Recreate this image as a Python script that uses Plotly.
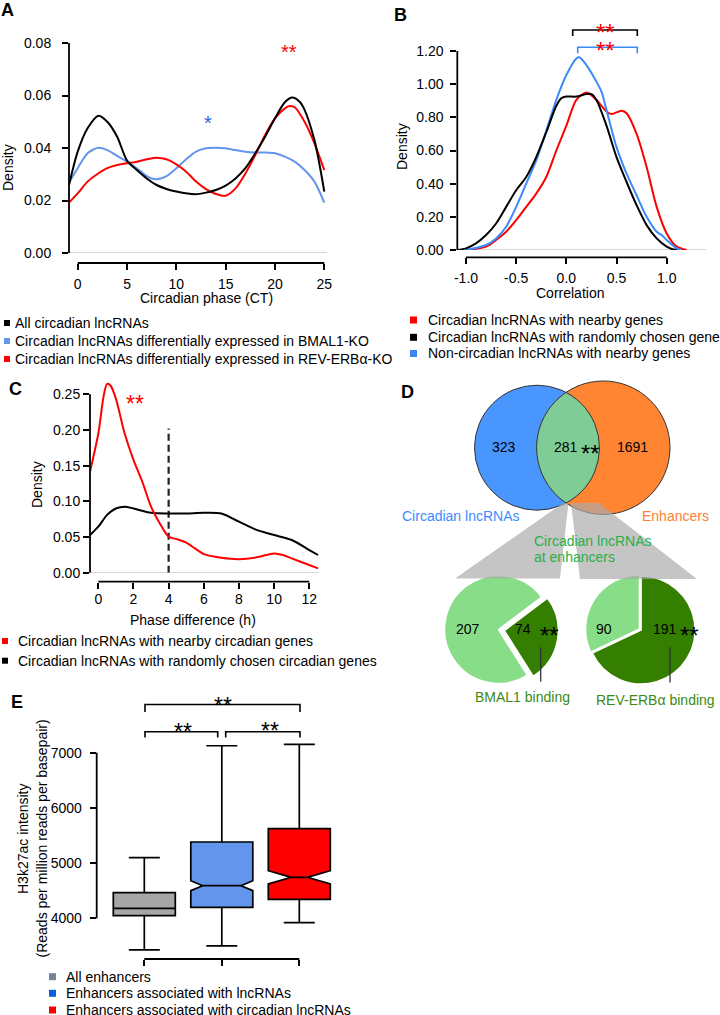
import plotly.graph_objects as go
import numpy as np

W, H = 720, 1015
FONT = "Arial, 'Liberation Sans', sans-serif"
FS = 14

# ---------------- DATA ----------------
# Panel A : density of circadian phase (CT)
a_all_x = [-0.88, 0, 1, 2.1, 3, 4, 5, 6, 7, 8, 9, 10, 11.9, 13, 14, 15, 16, 17, 18, 19, 20, 21, 21.75, 22.5, 23, 24, 24.5, 25]
a_all_y = [0.0259, 0.0386, 0.0475, 0.0523, 0.0500, 0.0443, 0.0352, 0.0316, 0.0284, 0.0259, 0.0244, 0.0234, 0.0224,
           0.0230, 0.0240, 0.0257, 0.0284, 0.0323, 0.0380, 0.0443, 0.0513, 0.0574, 0.0592, 0.0576, 0.0545, 0.0430,
           0.0340, 0.0234]
a_bmal_x = [-0.88, 0, 1, 2.1, 3, 4, 5, 6, 7, 7.9, 9, 10, 11, 12, 13, 14, 15, 16, 17, 18, 19, 20, 21, 22, 23, 24, 25]
a_bmal_y = [0.0268, 0.0323, 0.0380, 0.0401, 0.0392, 0.0370, 0.0348, 0.0323, 0.0293, 0.0281, 0.0293, 0.0323, 0.0357,
            0.0386, 0.0399, 0.0401, 0.0399, 0.0392, 0.0386, 0.0383, 0.0383, 0.0380, 0.0367, 0.0348, 0.0316, 0.0272,
            0.0192]
a_rev_x = [-0.88, 0, 1, 2, 3, 4, 5, 6, 7, 8, 9, 10, 11, 12, 13, 14, 15, 16, 17, 18, 19, 20, 21, 21.5, 22, 23, 24, 25]
a_rev_y = [0.0192, 0.0227, 0.0272, 0.0301, 0.0323, 0.0335, 0.0342, 0.0348, 0.0357, 0.0363, 0.0357, 0.0338, 0.0310,
           0.0272, 0.0243, 0.0225, 0.0218, 0.0246, 0.0303, 0.0373, 0.0450, 0.0513, 0.0551, 0.0560, 0.0555, 0.0500,
           0.0418, 0.0316]
a_xticks = [0, 5, 10, 15, 20, 25]
a_yticks = [0.00, 0.02, 0.04, 0.06, 0.08]
a_legend = ["All circadian lncRNAs",
            "Circadian lncRNAs differentially expressed in BMAL1-KO",
            "Circadian lncRNAs differentially expressed in REV-ERBα-KO"]

# Panel B : density of correlation
b_near_x = [-1.0, -0.8, -0.7, -0.6, -0.5, -0.4, -0.3, -0.2, -0.1, 0, 0.1, 0.2, 0.3, 0.4, 0.45, 0.55, 0.6, 0.7, 0.8,
            0.9, 1.0, 1.1, 1.2]
b_near_y = [0, 0.02, 0.06, 0.11, 0.18, 0.26, 0.34, 0.44, 0.60, 0.75, 0.905, 0.95, 0.905, 0.835, 0.82, 0.84, 0.825,
            0.70, 0.50, 0.26, 0.10, 0.02, 0]
b_rand_x = [-1.087, -1.0, -0.9, -0.8, -0.7, -0.6, -0.5, -0.4, -0.3, -0.2, -0.1, -0.05, 0, 0.1, 0.2, 0.25, 0.3, 0.4,
            0.5, 0.6, 0.7, 0.8, 0.9, 1.0, 1.05, 1.1]
b_rand_y = [0, 0.01, 0.04, 0.09, 0.16, 0.26, 0.36, 0.44, 0.56, 0.71, 0.87, 0.915, 0.925, 0.925, 0.94, 0.94, 0.905,
            0.75, 0.56, 0.41, 0.27, 0.15, 0.07, 0.02, 0.006, 0]
b_non_x = [-1.0, -0.8, -0.7, -0.6, -0.5, -0.4, -0.3, -0.2, -0.1, 0, 0.1, 0.13, 0.2, 0.3, 0.35, 0.4, 0.5, 0.6, 0.7,
           0.8, 0.9, 0.95, 1.0, 1.1, 1.15]
b_non_y = [0, 0.03, 0.07, 0.14, 0.26, 0.40, 0.54, 0.72, 0.905, 1.055, 1.155, 1.162, 1.115, 1.015, 0.955, 0.845, 0.62,
           0.46, 0.33, 0.20, 0.11, 0.09, 0.06, 0.01, 0]
b_xticks = [-1.0, -0.5, 0.0, 0.5, 1.0]
b_yticks = [0.0, 0.2, 0.4, 0.6, 0.8, 1.0, 1.2]
b_legend = ["Circadian lncRNAs with nearby genes",
            "Circadian lncRNAs with randomly chosen genes",
            "Non-circadian lncRNAs with nearby genes"]

# Panel C : density of phase difference (h)
c_near_x = [-0.47, 0, 0.3, 0.5, 0.7, 1, 1.5, 2, 2.5, 3, 3.5, 4, 4.5, 5, 5.5, 6, 7, 8, 9, 10, 10.5, 11, 12, 12.5]
c_near_y = [0.1416, 0.195, 0.247, 0.2645, 0.262, 0.244, 0.195, 0.158, 0.1276, 0.0925, 0.069, 0.0505, 0.0467, 0.042,
            0.034, 0.026, 0.021, 0.019, 0.0215, 0.027, 0.0248, 0.020, 0.0107, 0.006]
c_rand_x = [-0.47, 0, 0.5, 1, 1.5, 2, 3, 4, 5, 6, 7, 8, 9, 10, 11, 12, 12.5]
c_rand_y = [0.0528, 0.0645, 0.081, 0.090, 0.0925, 0.090, 0.084, 0.083, 0.083, 0.084, 0.083, 0.0715, 0.060, 0.0528,
            0.0458, 0.0318, 0.0248]
c_cutoff = 4
c_cutoff_top = 0.202
c_xticks = [0, 2, 4, 6, 8, 10, 12]
c_yticks = [0.00, 0.05, 0.10, 0.15, 0.20, 0.25]
c_legend = ["Circadian lncRNAs with nearby circadian genes",
            "Circadian lncRNAs with randomly chosen circadian genes"]

# Panel D : Venn and pies
d_venn = {"lnc_only": 323, "both": 281, "enh_only": 1691}
d_bmal = [74, 207]      # bound, not bound
d_rev = [191, 90]

# Panel E : H3K27ac boxplots
e_groups = ["All enhancers", "Enhancers associated with lncRNAs", "Enhancers associated with circadian lncRNAs"]
e_lower = [3427, 3499, 3922]
e_q1 = [4048, 4199, 4344]
e_median = [4181, 4591, 4742]
e_q3 = [4465, 5382, 5623]
e_upper = [5098, 7126, 7150]
e_notch = [0, 90, 120]
e_yticks = [4000, 5000, 6000, 7000]

# ---------------- helpers ----------------
layout = dict(width=W, height=H, margin=dict(l=0, r=0, t=0, b=0, pad=0), paper_bgcolor="white",
              plot_bgcolor="rgba(0,0,0,0)", showlegend=False,
              font=dict(family=FONT, size=FS, color="black"))
shapes, annotations, traces = [], [], []


def px(x):
    return x / W


def py(y):
    return 1 - y / H


def text(x, y, s, size=FS, color="black", xa="center", ya="middle", angle=0, bold=False, yshift=0):
    if bold:
        s = "<b>" + s + "</b>"
    annotations.append(dict(x=px(x), y=py(y), xref="paper", yref="paper", text=s, showarrow=False,
                            xanchor=xa, yanchor=ya, textangle=angle, yshift=yshift,
                            font=dict(size=size, color=color, family=FONT)))


def stars(x, y, s="**", color="black", size=20):
    text(x, y, s, size=size, color=color, yshift=-0.28 * size)


def line(x0, y0, x1, y1, color="black", width=1.6, dash="solid"):
    shapes.append(dict(type="line", xref="paper", yref="paper", x0=px(x0), y0=py(y0), x1=px(x1), y1=py(y1),
                       line=dict(color=color, width=width, dash=dash)))


def bracket(x0, x1, ytop, ybot, color="black", width=1.6):
    path = f"M{px(x0)},{py(ybot)} L{px(x0)},{py(ytop)} L{px(x1)},{py(ytop)} L{px(x1)},{py(ybot)}"
    shapes.append(dict(type="path", xref="paper", yref="paper", path=path, line=dict(color=color, width=width)))


def square(x, y, size, color):
    shapes.append(dict(type="rect", xref="paper", yref="paper", x0=px(x), x1=px(x + size),
                       y0=py(y + size / 2), y1=py(y - size / 2), fillcolor=color, line=dict(width=0)))


def panel(idx, xcal, ycal, xdom, ydom, xline_py, xt, xtl, yt, ytl, xstand=2, ystand=4):
    s = "" if idx == 1 else str(idx)
    xv0, xp0, xv1, xp1 = xcal
    kx = (xp1 - xp0) / (xv1 - xv0)
    xr = [xv0 + (xdom[0] - xp0) / kx, xv0 + (xdom[1] - xp0) / kx]
    yv0, yp0, yv1, yp1 = ycal
    ky = (yp1 - yp0) / (yv1 - yv0)
    yr = [yv0 + (ydom[1] - yp0) / ky, yv0 + (ydom[0] - yp0) / ky]
    common = dict(tickmode="array", ticks="outside", ticklen=6, tickwidth=1.6, tickcolor="black",
                  showline=False, showgrid=False, zeroline=False, fixedrange=True, automargin=False,
                  tickfont=dict(size=FS, family=FONT, color="black"))
    layout["xaxis" + s] = dict(domain=[px(xdom[0]), px(xdom[1])], range=xr, anchor="free",
                               position=py(xline_py), tickvals=xt, ticktext=xtl,
                               ticklabelstandoff=xstand, **common)
    layout["yaxis" + s] = dict(domain=[py(ydom[1]), py(ydom[0])], range=yr, anchor="x" + s,
                               tickvals=yt, ticktext=ytl, ticklabelstandoff=ystand, **common)
    shapes.append(dict(type="line", xref="x" + s, yref="paper", x0=xt[0], x1=xt[-1], y0=py(xline_py),
                       y1=py(xline_py), line=dict(color="black", width=1.8)))
    shapes.append(dict(type="line", xref="paper", yref="y" + s, x0=px(xdom[0]), x1=px(xdom[0]), y0=yt[0],
                       y1=yt[-1], line=dict(color="black", width=1.8)))
    return "x" + s, "y" + s


def curve(xa, ya, x, y, color, width=2):
    traces.append(go.Scatter(x=x, y=y, xaxis=xa, yaxis=ya, mode="lines", hoverinfo="skip",
                             line=dict(color=color, width=width, shape="spline", smoothing=0.8)))


def zero_line(xa, ya):
    shapes.append(dict(type="line", xref=xa + " domain", yref=ya, x0=0, x1=1, y0=0, y1=0, layer="below",
                       line=dict(color="#c8c8c8", width=1.6)))


RED = "#ff0000"
CORN = "#6495ed"
BBLUE = "#3a8bfa"
LAB = 18

# ---------------- Panel A ----------------
xa, ya = panel(1, (0, 77.7, 25, 324.3), (0, 253, 0.08, 43), (69, 327), (43, 253), 263,
               a_xticks, [str(v) for v in a_xticks], a_yticks, [f"{v:.2f}" for v in a_yticks], ystand=8)
zero_line(xa, ya)
curve(xa, ya, a_bmal_x, a_bmal_y, CORN)
curve(xa, ya, a_rev_x, a_rev_y, RED)
curve(xa, ya, a_all_x, a_all_y, "black")
text(7, 10, "A", size=LAB, bold=True)
text(8, 168, "Density", angle=-90)
text(207, 298, "Circadian phase (CT)")
stars(289, 46, "**", RED, 20)
stars(208, 117, "*", "#2a66d8", 20)
for i, (lab, col) in enumerate(zip(a_legend, ["black", CORN, RED])):
    yy = 323 + 18 * i
    square(4, yy, 6, col)
    text(12.5, yy, lab, xa="left")

# ---------------- Panel B ----------------
xb, yb = panel(2, (-1, 466, 1, 666.7), (0, 250, 1.2, 51), (457.3, 706), (51, 250), 257.3,
               b_xticks, [f"{v:.1f}" for v in b_xticks], b_yticks, [f"{v:.2f}" for v in b_yticks], ystand=4)
zero_line(xb, yb)
curve(xb, yb, b_near_x, b_near_y, RED)
curve(xb, yb, b_non_x, b_non_y, BBLUE)
curve(xb, yb, b_rand_x, b_rand_y, "black")
text(400, 15, "B", size=LAB, bold=True)
text(402, 147, "Density", angle=-90)
text(570, 293, "Correlation")
bracket(572.7, 637.3, 30, 36, "black")
bracket(577.7, 637.3, 47.3, 53.3, BBLUE)
stars(605, 26, "**", RED, 24)
stars(605, 43.5, "**", RED, 24)
for i, (lab, col) in enumerate(zip(b_legend, [RED, "black", "#3d85f5"])):
    yy = [320, 337.3, 353.5][i]
    square(410, yy, 7, col)
    text(426, yy, lab, xa="left")

# ---------------- Panel C ----------------
xc, yc = panel(3, (0, 98.3, 12, 309.3), (0, 572.7, 0.25, 394.3), (90, 319), (380, 572.7), 581.7,
               c_xticks, [str(v) for v in c_xticks], c_yticks, [f"{v:.2f}" for v in c_yticks],
               xstand=-2, ystand=0)
zero_line(xc, yc)
traces.append(go.Scatter(x=[c_cutoff, c_cutoff], y=[0, c_cutoff_top], xaxis=xc, yaxis=yc, mode="lines",
                         hoverinfo="skip", line=dict(color="#222222", width=2.2, dash="7px,4px")))
curve(xc, yc, c_rand_x, c_rand_y, "black")
curve(xc, yc, c_near_x, c_near_y, RED)
text(15, 389, "C", size=LAB, bold=True)
text(37, 485, "Density", angle=-90)
text(193, 620, "Phase difference (h)")
stars(135, 398, "**", RED, 23)
for i, (lab, col) in enumerate(zip(c_legend, [RED, "black"])):
    yy = [641, 660.7][i]
    square(2, yy, 6, col)
    text(16, yy, lab, xa="left")

# ---------------- Panel D ----------------
text(407, 392, "D", size=LAB, bold=True)
c1 = (537.0, 447.7, 62.5)
c2 = (603.3, 447.7, 66.7)
BLUE_V, ORANGE_V, GREEN_V = "#4a96ff", "#ff8533", "#7fcc96"
for (cx, cy, r), col in ((c1, BLUE_V), (c2, ORANGE_V)):
    shapes.append(dict(type="circle", xref="paper", yref="paper", x0=px(cx - r), x1=px(cx + r),
                       y0=py(cy + r), y1=py(cy - r), fillcolor=col, line=dict(width=0)))
d = c2[0] - c1[0]
aa = (d ** 2 + c1[2] ** 2 - c2[2] ** 2) / (2 * d)
hh = np.sqrt(c1[2] ** 2 - aa ** 2)
t1 = np.arctan2(hh, aa)
t2 = np.arctan2(hh, d - aa)
pts = []
for t in np.linspace(-t1, t1, 60):
    pts.append((c1[0] + c1[2] * np.cos(t), c1[1] + c1[2] * np.sin(t)))
for t in np.linspace(np.pi - t2, np.pi + t2, 60)[::-1]:
    pts.append((c2[0] + c2[2] * np.cos(t), c2[1] + c2[2] * np.sin(t)))
path = "M" + " L".join(f"{px(a):.5f},{py(b):.5f}" for a, b in pts) + " Z"
shapes.append(dict(type="path", xref="paper", yref="paper", path=path, fillcolor=GREEN_V, line=dict(width=0)))
for (cx, cy, r) in (c1, c2):
    shapes.append(dict(type="circle", xref="paper", yref="paper", x0=px(cx - r), x1=px(cx + r),
                       y0=py(cy + r), y1=py(cy - r), line=dict(color="#333333", width=1)))
# gray projection wedges (semi-transparent, drawn over the Venn)
for poly in ([(455, 578.5), (560, 578.5), (568.5, 503), (563, 503)],
             [(580, 579), (697, 579), (599, 503), (571, 503)]):
    path = "M" + " L".join(f"{px(a)},{py(b)}" for a, b in poly) + " Z"
    shapes.append(dict(type="path", xref="paper", yref="paper", path=path,
                       fillcolor="rgba(170,170,170,0.68)", line=dict(width=0)))
text(504, 447, str(d_venn["lnc_only"]))
text(566, 447, str(d_venn["both"]))
stars(590.5, 447, "**", "black", 24)
text(632.5, 447, str(d_venn["enh_only"]))
text(460.5, 516, "Circadian lncRNAs", color="#3d8bff")
text(675, 516, "Enhancers", color="#ff8033")
text(532, 540.7, "Circadian lncRNAs", color="#25b04c", xa="left")
text(532, 557.3, "at enhancers", color="#25b04c", xa="left")

DARK_G, LIGHT_G = "#347f00", "#88dd88"
for vals, (cx, cy), rot, pull in ((d_bmal, (498.5, 629.5), 53, 0.11), (d_rev, (639.5, 629.0), 0, 0.035)):
    r = 54
    half = r * (1 + pull)
    traces.append(go.Pie(values=vals, labels=["bound", "unbound"], sort=False, direction="clockwise",
                         rotation=rot, pull=[pull, 0], textinfo="none", hoverinfo="skip",
                         marker=dict(colors=[DARK_G, LIGHT_G], line=dict(color="white", width=1.5)),
                         domain=dict(x=[px(cx - half), px(cx + half)], y=[py(cy + half), py(cy - half)])))
text(467.5, 628.5, str(d_bmal[1]))
text(523.3, 628.5, str(d_bmal[0]))
stars(549.5, 628.5, "**", "black", 24)
text(604, 628.5, str(d_rev[1]))
text(665, 628.5, str(d_rev[0]))
stars(689.5, 628.5, "**", "black", 24)
line(540.7, 647.3, 540.7, 681.7, "#333333", 1.3)
line(670, 647.3, 670, 682.5, "#333333", 1.3)
text(522.5, 697.3, "BMAL1 binding", color="#3c8a14")
text(655.5, 700, "REV-ERBα binding", color="#3c8a14")

# ---------------- Panel E ----------------
xe, ye = panel(4, (0, 144.3, 2, 299.3), (4000, 918.3, 7000, 752.7), (96.7, 336), (740, 957), 959,
               [0, 1, 2], ["", "", ""], e_yticks, [str(v) for v in e_yticks], ystand=5)
box_fill = ["#a6a6a6", CORN, RED]
notch_w = [0.25, 0.19, 0.37]
for i in range(3):
    kw = dict(notched=True, notchspan=[e_notch[i]], notchwidth=notch_w[i]) if e_notch[i] else dict(notched=False)
    traces.append(go.Box(x=[i], q1=[e_q1[i]], median=[e_median[i]], q3=[e_q3[i]], lowerfence=[e_lower[i]],
                         upperfence=[e_upper[i]], xaxis=xe, yaxis=ye, width=0.8, whiskerwidth=0.5,
                         fillcolor=box_fill[i], line=dict(color="black", width=1.7), boxpoints=False,
                         hoverinfo="skip", **kw))
text(17, 702, "E", size=LAB, bold=True)
text(23, 839, "H3k27ac intensity", angle=-90)
text(41.5, 839, "(Reads per million reads per basepair)", angle=-90)
bracket(145, 300, 704.5, 712)
bracket(145, 217.7, 731.7, 737.5)
bracket(225.7, 300, 731.7, 737.5)
stars(223.3, 700, "**", "black", 23)
stars(183, 726, "**", "black", 23)
stars(270, 725, "**", "black", 23)
for i, (lab, col) in enumerate(zip(e_groups, ["#78849a", "#0a5ce0", RED])):
    yy = [976.7, 993.3, 1010][i]
    square(49, yy, 7, col)
    text(63.5, yy, lab, xa="left")

layout["shapes"] = shapes
layout["annotations"] = annotations
fig = go.Figure(data=traces, layout=layout)
fig.write_html("out.html", config={"displayModeBar": False},
               post_script="document.body.style.margin='0';document.body.style.padding='0';"
                           "document.body.style.overflow='hidden';")
